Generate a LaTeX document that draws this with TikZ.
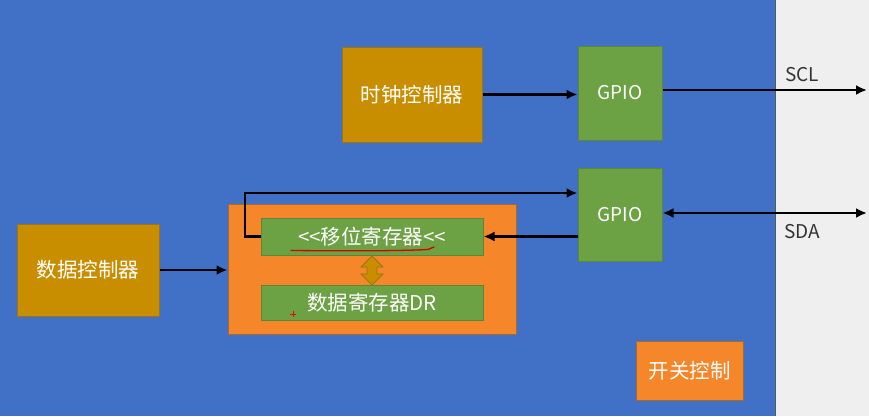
\documentclass[tikz,border=0pt]{standalone}
\usepackage{fontspec}
\setmainfont[Ligatures=NoCommon]{Noto Sans CJK SC}
\usetikzlibrary{arrows.meta}
\definecolor{bgblue}{HTML}{4171C6}
\definecolor{bggrey}{HTML}{EFEFEF}
\definecolor{gold}{HTML}{C88E00}
\definecolor{goldline}{HTML}{9C7418}
\definecolor{grn}{HTML}{6CA144}
\definecolor{grnline}{HTML}{5A8838}
\definecolor{org}{HTML}{F5862A}
\definecolor{orgline}{HTML}{A8692E}
\definecolor{lbl}{HTML}{333333}
\tikzset{
  box/.style={draw, line width=1pt, inner sep=0pt, text=white, font=\fontsize{20.5}{24}\selectfont},
  goldbox/.style={box, fill=gold, draw=goldline},
  grnbox/.style={box, fill=grn, draw=grnline},
  orgbox/.style={box, fill=org, draw=orgline},
  latinfont/.style={font=\fontsize{19}{22}\selectfont},
  conn/.style={draw=black, line width=2.8pt, -{Latex[length=11pt,width=10pt]}},
  biconn/.style={draw=black, line width=2.8pt, {Latex[length=11pt,width=10pt]}-{Latex[length=11pt,width=10pt]}},
  sig/.style={text=lbl, font=\fontsize{19}{22}\selectfont, inner sep=0pt}
}
\begin{document}
\begin{tikzpicture}[x=1pt,y=-1pt]
\useasboundingbox (0,0) rectangle (869,416);
\fill[bggrey] (0,0) rectangle (869,416);
\fill[bgblue] (0,0) rectangle (775,416);
\draw[color=gray!70!black, line width=0.6pt] (775,0) -- (775,416);

\node[goldbox, minimum width=140pt, minimum height=95pt] (clock) at (412,94.5) {时钟控制器};
\node[grnbox, latinfont, minimum width=84pt, minimum height=94pt] (gpioa) at (620,93) {GPIO};
\node[grnbox, latinfont, minimum width=84pt, minimum height=93pt] (gpiob) at (620,214.5) {GPIO};
\node[orgbox, minimum width=288pt, minimum height=130pt] (outer) at (372,269) {};
\node[grnbox, minimum width=222pt, minimum height=37pt] (shift) at (372,236.5) {{<}{<}移位寄存器{<}{<}};
\node[grnbox, minimum width=222pt, minimum height=35pt] (dr) at (372,302.5) {数据寄存器DR};
\node[goldbox, minimum width=142pt, minimum height=92pt] (dctrl) at (88,270) {数据控制器};
\node[orgbox, minimum width=107pt, minimum height=59pt] (sw) at (689.5,370.5) {开关控制};

\node[sig] (scl) at (802,75) {SCL};
\node[sig] (sda) at (802,232) {SDA};
\coordinate (sclend) at (867,90);
\coordinate (sdaend) at (867,213);
\coordinate (fb) at (245,193);

% gold double arrow between registers
\filldraw[fill=gold, draw=goldline, line width=0.8pt]
  (372,256) -- (383,267) -- (377,267) -- (377,274) -- (383,274) -- (372,285)
  -- (361,274) -- (367,274) -- (367,267) -- (361,267) -- cycle;

\draw[conn] (clock.east) -- (clock.east -| gpioa.west);
\draw[conn] (gpioa.east |- sclend) -- (sclend);
\draw[biconn] (gpiob.east |- sdaend) -- (sdaend);
\draw[conn] (gpiob.west |- shift.east) -- (shift.east);
\draw[conn] (shift.west) -- (shift.west -| fb) -- (fb) -- (fb -| gpiob.west);
\draw[conn] (dctrl.east) -- (dctrl.east -| outer.west);

% red annotations
\draw[red!85!black, line width=1.3pt, line cap=round] (291,250.5) .. controls (350,251) and (400,251) .. (428,249.5) -- (434,247);
\draw[red, line width=0.8pt] (290,314) -- (296,314) (293,311) -- (293,317);
\end{tikzpicture}
\end{document}
